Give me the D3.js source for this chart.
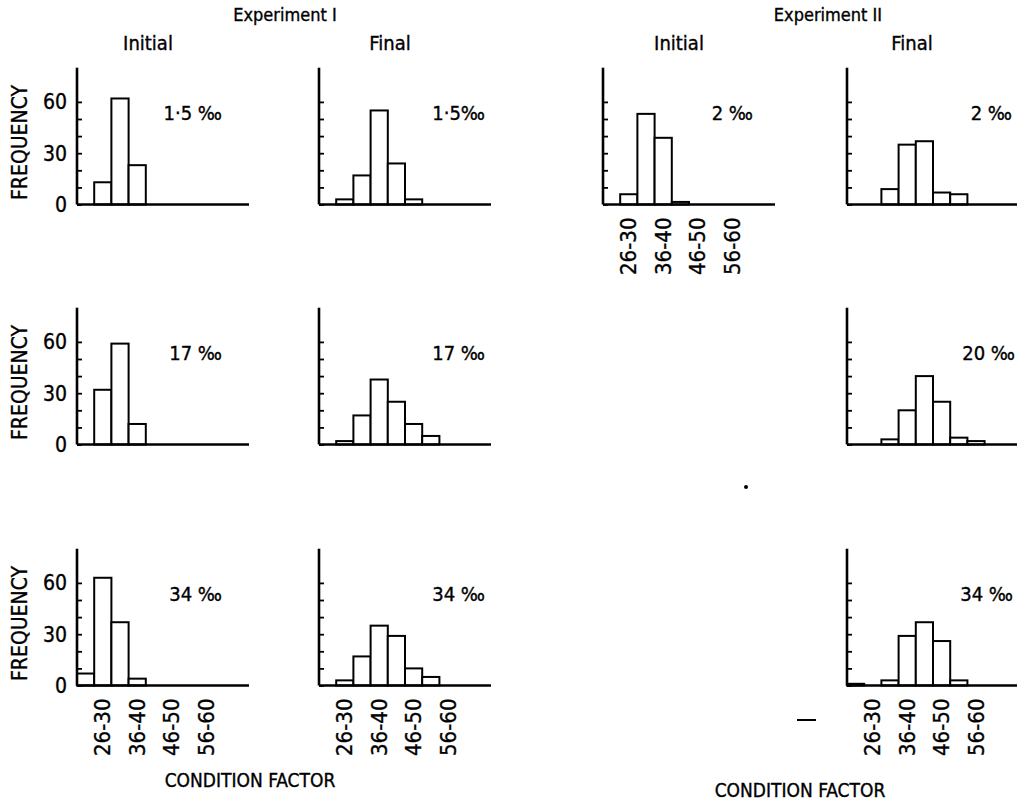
<!DOCTYPE html>
<html>
<head>
<meta charset="utf-8">
<script src="https://cdn.jsdelivr.net/npm/d3@7"></script>
<style>
  html, body { margin: 0; padding: 0; background: #fff; }
  svg { display: block; }
  text { font-family: "DejaVu Sans Condensed", "Liberation Sans Narrow", "DejaVu Sans", sans-serif; fill: #000; stroke: #000; stroke-width: 0.35px; }
</style>
</head>
<body>
<svg id="chart" width="1017" height="804"></svg>
<script>
// ---- data ----
const bins = ["21-25","26-30","31-35","36-40","41-45","46-50","51-55","56-60","61-65","66-70"];
const binTickLabels = ["26-30","36-40","46-50","56-60"];
const yTicks = [0,10,20,30,40,50,60];
const yTickLabels = [0,30,60];

const exp1Initial_1_5 = [0,13,62,23,0,0,0,0,0,0];
const exp1Final_1_5   = [0,3,17,55,24,3,0,0,0,0];
const exp2Initial_2   = [0,6,53,39,1.5,0,0,0,0,0];
const exp2Final_2     = [0,0,9,35,37,7,6,0,0,0];
const exp1Initial_17  = [0,32,59,12,0,0,0,0,0,0];
const exp1Final_17    = [0,2,17,38,25,12,5,0,0,0];
const exp2Final_20    = [0,0,3,20,40,25,4,2,0,0];
const exp1Initial_34  = [7,63,37,4,0,0,0,0,0,0];
const exp1Final_34    = [0,3,17,35,29,10,5,0,0,0];
const exp2Final_34    = [1,0,3,29,37,26,3,0,0,0];

const salinityLabels = ["1·5 ‰","1·5‰","2 ‰","2 ‰","17  ‰","17 ‰","20 ‰","34  ‰","34 ‰","34 ‰"];

// ---- layout ----
const colX = [77, 319, 603, 847];
const rowY = [204.5, 444.5, 685.5];
const plotW = 172, unitPx = 1.71, yMax = 80;

const panels = [
  {values: exp1Initial_1_5, col:0, row:0, label:salinityLabels[0], lx:222, yLabels:true,  xLabels:false},
  {values: exp1Final_1_5,   col:1, row:0, label:salinityLabels[1], lx:485, yLabels:false, xLabels:false},
  {values: exp2Initial_2,   col:2, row:0, label:salinityLabels[2], lx:753, yLabels:false, xLabels:true},
  {values: exp2Final_2,     col:3, row:0, label:salinityLabels[3], lx:1012, yLabels:false, xLabels:false},
  {values: exp1Initial_17,  col:0, row:1, label:salinityLabels[4], lx:222, yLabels:true,  xLabels:false},
  {values: exp1Final_17,    col:1, row:1, label:salinityLabels[5], lx:485, yLabels:false, xLabels:false},
  {values: exp2Final_20,    col:3, row:1, label:salinityLabels[6], lx:1015, yLabels:false, xLabels:false},
  {values: exp1Initial_34,  col:0, row:2, label:salinityLabels[7], lx:222, yLabels:true,  xLabels:true},
  {values: exp1Final_34,    col:1, row:2, label:salinityLabels[8], lx:485, yLabels:false, xLabels:true},
  {values: exp2Final_34,    col:3, row:2, label:salinityLabels[9], lx:1013, yLabels:false, xLabels:true}
];

const svg = d3.select("#chart");

panels.forEach(p => {
  const x0 = colX[p.col], y0 = rowY[p.row];
  const x = d3.scaleLinear().domain([0, bins.length]).range([x0, x0 + plotW]);
  const y = d3.scaleLinear().domain([0, yMax]).range([y0, y0 - yMax * unitPx]);
  const g = svg.append("g");

  // bars
  g.selectAll("rect.bar")
    .data(p.values.map((v,i)=>({v,i})).filter(d => d.v > 0))
    .join("rect")
    .attr("x", d => x(d.i))
    .attr("y", d => y(d.v))
    .attr("width", d => x(d.i+1) - x(d.i))
    .attr("height", d => y(0) - y(d.v))
    .attr("fill", "#fff")
    .attr("stroke", "#000")
    .attr("stroke-width", 2);

  // y axis with inward ticks
  const yAxis = d3.axisRight(y).tickValues(yTicks).tickSize(5).tickFormat("");
  const ya = g.append("g").attr("transform", `translate(${x0},0)`).call(yAxis);
  ya.select(".domain").remove();
  ya.selectAll(".tick line").attr("stroke", "#000").attr("stroke-width", 1.8);
  g.append("line").attr("x1", x0).attr("x2", x0).attr("y1", y(0)).attr("y2", y(yMax))
    .attr("stroke", "#000").attr("stroke-width", 2.6);
  // x axis baseline
  g.append("line").attr("x1", x0).attr("x2", x(bins.length)).attr("y1", y0).attr("y2", y0)
    .attr("stroke", "#000").attr("stroke-width", 2.6);

  if (p.yLabels) {
    g.selectAll("text.ytl").data(yTickLabels).join("text")
      .attr("x", x0 - 10).attr("y", d => y(d))
      .attr("dy", "0.36em").attr("text-anchor", "end")
      .style("font-size", "21px").text(d => d);
    g.append("text")
      .attr("transform", `translate(${27},${y0 - 62}) rotate(-90)`)
      .attr("text-anchor", "middle").style("font-size", "21px").text("FREQUENCY");
  }

  if (p.xLabels) {
    g.selectAll("text.xtl").data(binTickLabels).join("text")
      .attr("transform", d => { const i = bins.indexOf(d); return `translate(${(x(i)+x(i+1))/2 + 7.5},${y0 + 13}) rotate(-90)`; })
      .attr("text-anchor", "end").style("font-size", "22px").text(d => d);
  }

  g.append("text").attr("x", p.lx).attr("y", y0 - 92).attr("dy", "0.36em")
    .attr("text-anchor", "end").style("font-size", "20px").text(p.label);
});

// titles
const titles = [
  {t:"Experiment I", x:285, y:21, s:18},
  {t:"Experiment II", x:828, y:21, s:18},
  {t:"Initial", x:148, y:50, s:20},
  {t:"Final", x:390, y:50, s:20},
  {t:"Initial", x:679, y:50, s:20},
  {t:"Final", x:912, y:50, s:20},
  {t:"CONDITION FACTOR", x:250, y:787, s:19},
  {t:"CONDITION FACTOR", x:800, y:797, s:19}
];
svg.selectAll("text.title").data(titles).join("text")
  .attr("x", d => d.x).attr("y", d => d.y).attr("text-anchor", "middle")
  .style("font-size", d => d.s + "px").text(d => d.t);

// stray marks of the original print
svg.append("line").attr("x1", 797).attr("x2", 816).attr("y1", 720).attr("y2", 720).attr("stroke", "#000").attr("stroke-width", 2);
svg.append("circle").attr("cx", 746).attr("cy", 487).attr("r", 2).attr("fill", "#000");
</script>
</body>
</html>
